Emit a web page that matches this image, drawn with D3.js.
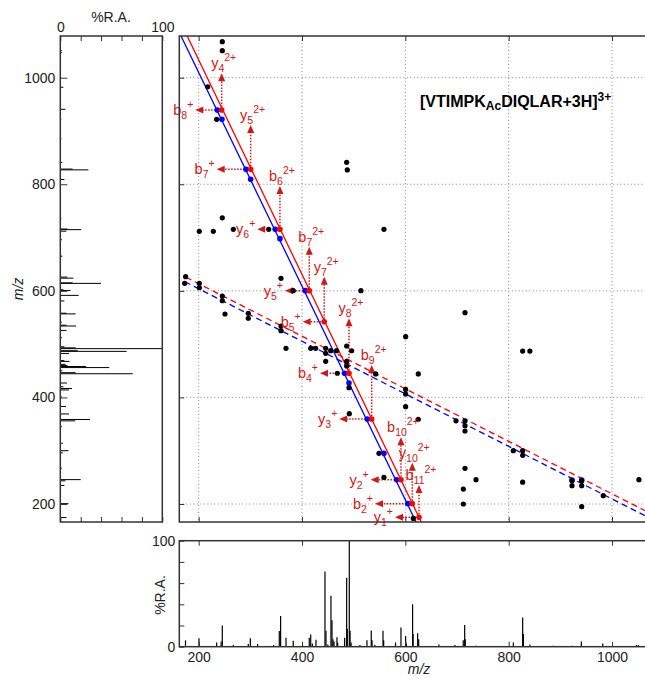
<!DOCTYPE html>
<html>
<head>
<meta charset="utf-8">
<script src="https://cdn.jsdelivr.net/npm/d3@7"></script>
<style>
  body { margin: 0; background: #fff; }
  text { font-family: "Liberation Sans", Arial, sans-serif; }
</style>
</head>
<body>
<script>
// 1D spectrum: [m/z, %R.A.] (shared by the bottom and the left panels)
var spectrum = [
  [174.5, 6], [200.6, 8], [234.8, 4], [243.5, 5], [245.7, 20], [267, 1.5], [296, 2.5],
  [300, 8], [314, 2.5], [345, 1.5], [356, 14.7], [358.6, 29], [369, 8.5], [383, 5.5],
  [401, 1.5], [414, 8.5], [416.8, 11.5], [420, 3], [427, 6.5], [444.4, 71], [446.4, 15],
  [450, 2], [456, 48], [458, 25], [460, 7], [462, 5], [467.6, 9], [469, 4], [482.5, 8.5],
  [486.4, 65], [487.6, 17], [491.5, 100], [493, 15], [495, 4], [512, 1.5], [525.7, 6],
  [534, 15.4], [535.5, 6], [541, 1.5], [556.7, 15], [558, 6], [581, 4], [591.5, 18],
  [600.5, 10], [602, 3], [614, 40], [615, 12], [623.8, 12.8], [625.8, 7], [665, 2],
  [696, 1.5], [712, 6], [714.8, 20.5], [716, 7], [736, 1], [809, 4], [827, 27.5],
  [828.5, 12], [841, 2], [886, 1], [922, 1], [940.6, 5], [982, 3], [1047, 1.7], [1051, 1.5]
];

// 2D map peaks: [fragment m/z, precursor m/z]
var blackPts = [
  [245.7, 1067.5], [245.7, 1050.6], [217.4, 983], [234.8, 921.9], [486.4, 841.2], [487.6, 826.8],
  [245.7, 737], [201.2, 711.7], [228.3, 711.7], [267, 715.5], [335.5, 715.5], [558.6, 715.5],
  [174.8, 626.5], [172.9, 614], [201.2, 614], [201.2, 606], [245.7, 590.3], [245.7, 581.5],
  [250.9, 556.5], [296, 557.8], [296, 548.5], [359.3, 623.5], [383, 600.3], [514, 600.3],
  [359.3, 534], [359.3, 525.2], [369, 492.2], [416.8, 492.2], [426.4, 492.2], [445.8, 492.2],
  [445.8, 482.8], [455.5, 487.7], [467, 487.7], [486.4, 496.5], [496, 487.6], [445.8, 467.8],
  [486.4, 467.8], [486.4, 459], [468.3, 445.3], [490.9, 418.2], [542.5, 444], [625, 444],
  [600.6, 514], [491.5, 369.5], [600.5, 415], [600.5, 406.4], [600.5, 382.6], [625, 359],
  [548.9, 295], [558.6, 250], [615.3, 173], [712.2, 228], [712.2, 200], [715.4, 267],
  [736.7, 245.6], [715.4, 559], [827, 487], [841, 487], [698, 356], [715.4, 356], [715.4, 347],
  [715.4, 337], [809, 300], [827, 300], [827, 291.4], [827, 241], [922.5, 243.7], [941.3, 243.7],
  [922.5, 234.3], [941.3, 234.3], [941.3, 195], [983, 215.6], [1052, 245.6]
];
var bluePts = [
  [236, 939.4], [245, 921.9], [291.5, 828], [300.6, 809.3], [348.3, 715.5], [357.3, 697.9],
  [406.3, 600.3], [482.6, 445.3], [490.9, 427], [526.3, 359.5], [558.6, 295], [583.2, 245.6],
  [605, 200.6], [922.5, 245], [941.3, 245]
];
var redPts = [
  [244.5, 939.4], [300.6, 828], [357.3, 715.5], [414, 600.3], [443, 542],
  [490.9, 445.3], [534.8, 359.5], [591.5, 245.6], [613.4, 200.6], [626.4, 175]
];
// arrow tips (m/z) for each red point
var leftTips = [193.4, 234.8, 313.4, 367, 401.3, 434.8, 472.1, 532.9, 541.2, 579.9];
var upTips = [1008.2, 911.2, 796.7, 682.8, 626.5, 548.5, 460.8, 325.2, 277.5, 235.7];
var leftIons = [["b","8","+"],["b","7","+"],["y","6","+"],["y","5","+"],["b","5","+"],
                ["b","4","+"],["y","3","+"],["y","2","+"],["b","2","+"],["y","1","+"]];
var upIons = [["y","4","2+"],["y","5","2+"],["b","6","2+"],["b","7","2+"],["y","7","2+"],
              ["y","8","2+"],["b","9","2+"],["b","10","2+"],["y","10","2+"],["b","11","2+"]];

// lines: precursor m/z = c + slope * fragment m/z
var redLine = [1435.9, -2.013], blueLine = [1410.7, -2.005];
var redDash = [712, -0.493], blueDash = [702.5, -0.493];

var mzTicks = [200, 400, 600, 800, 1000];
var raTicks = [0, 20, 40, 60, 80, 100];

var W = 645, H = 679;
var svg = d3.select("body").append("svg").attr("width", W).attr("height", H);

var x = d3.scaleLinear().domain([162.5, 1075.4]).range([179.3, 651]);
var y = d3.scaleLinear().domain([166.2, 1078.2]).range([522, 36]);
var raX = d3.scaleLinear().domain([0, 100]).range([60.3, 162.3]);
var raY = d3.scaleLinear().domain([0, 100]).range([646.7, 540.7]);

var axisCol = "#333", labRed = "#d01818";

svg.append("clipPath").attr("id", "mainClip").append("rect")
  .attr("x", 179.3).attr("y", 36).attr("width", 651 - 179.3).attr("height", 522 - 36);

//grid of main panel
var grid = svg.append("g").attr("stroke", "#888").attr("stroke-width", 1).attr("stroke-dasharray", "1,2.5");
grid.selectAll(".gx").data(mzTicks).enter().append("line")
  .attr("x1", d => x(d)).attr("x2", d => x(d)).attr("y1", 36).attr("y2", 522);
grid.selectAll(".gy").data(mzTicks).enter().append("line")
  .attr("y1", d => y(d)).attr("y2", d => y(d)).attr("x1", 179.3).attr("x2", 651);

var main = svg.append("g").attr("clip-path", "url(#mainClip)");

function lineFor(p, x0, dash, col){
  main.append("line")
    .attr("x1", x(x0)).attr("y1", y(p[0] + p[1] * x0))
    .attr("x2", x(1075.4)).attr("y2", y(p[0] + p[1] * 1075.4))
    .attr("stroke", col).attr("stroke-width", 1.3)
    .attr("stroke-dasharray", dash ? "6,4" : null);
}
lineFor(redLine, 162.5, false, "#ff0000");
lineFor(blueLine, 162.5, false, "#0000ff");
lineFor(redDash, 175.5, true, "#ff0000");
lineFor(blueDash, 173.5, true, "#0000ff");

//arrows
var arrows = main.append("g");
redPts.forEach(function(p, i){
  var px = x(p[0]), py = y(p[1]);
  var lx = x(leftTips[i]), uy = y(upTips[i]);
  arrows.append("line").attr("x1", px).attr("y1", py).attr("x2", lx + 7).attr("y2", py)
    .attr("stroke", labRed).attr("stroke-width", 1.5).attr("stroke-dasharray", "1.5,1.5");
  arrows.append("path").attr("d", "M" + lx + "," + py + "L" + (lx + 8) + "," + (py - 3.5) + "L" + (lx + 8) + "," + (py + 3.5) + "Z")
    .attr("fill", labRed);
  arrows.append("line").attr("x1", px).attr("y1", py).attr("x2", px).attr("y2", uy + 7)
    .attr("stroke", labRed).attr("stroke-width", 1.5).attr("stroke-dasharray", "1.5,1.5");
  arrows.append("path").attr("d", "M" + px + "," + uy + "L" + (px - 3.5) + "," + (uy + 8) + "L" + (px + 3.5) + "," + (uy + 8) + "Z")
    .attr("fill", labRed);
});

main.selectAll(".blue").data(bluePts).enter().append("circle")
  .attr("cx", d => x(d[0])).attr("cy", d => y(d[1])).attr("r", 2.8).attr("fill", "#0000ff");
main.selectAll(".red").data(redPts).enter().append("circle")
  .attr("cx", d => x(d[0])).attr("cy", d => y(d[1])).attr("r", 2.8).attr("fill", "#ff0000");
main.selectAll(".black").data(blackPts).enter().append("circle")
  .attr("cx", d => x(d[0])).attr("cy", d => y(d[1])).attr("r", 2.6).attr("fill", "#000");

//ion labels
function ionLabel(g, ion){
  g.append("tspan").text(ion[0]);
  g.append("tspan").attr("font-size", 10.5).attr("dy", 4).text(ion[1]);
  g.append("tspan").attr("font-size", 10.5).attr("dy", -11).text(ion[2]);
}
var labels = svg.append("g").attr("fill", labRed).attr("font-size", 14.5);
redPts.forEach(function(p, i){
  var px = x(p[0]), py = y(p[1]);
  var t = labels.append("text").attr("x", x(leftTips[i]) - 2).attr("y", py + 5).attr("text-anchor", "end");
  ionLabel(t, leftIons[i]);
  var u = labels.append("text").attr("x", px + 2).attr("y", y(upTips[i]) - 5).attr("text-anchor", "middle");
  ionLabel(u, upIons[i]);
});

//title
var title = svg.append("text").attr("x", 420).attr("y", 106.7)
  .attr("font-size", 16).attr("font-weight", "bold").attr("fill", "#000");
title.append("tspan").text("[VTIMPK");
title.append("tspan").attr("font-size", 12).attr("dy", 3).text("Ac");
title.append("tspan").attr("dy", -3).text("DIQLAR+3H]");
title.append("tspan").attr("font-size", 12).attr("dy", -6).text("3+");

//left panel spectrum (horizontal sticks)
svg.append("g").selectAll("line").data(spectrum).enter().append("line")
  .attr("x1", raX(0)).attr("x2", d => raX(d[1]))
  .attr("y1", d => y(d[0])).attr("y2", d => y(d[0]))
  .attr("stroke", "#000").attr("stroke-width", 1);

//bottom panel spectrum
svg.append("g").selectAll("line").data(spectrum).enter().append("line")
  .attr("x1", d => x(d[0])).attr("x2", d => x(d[0]))
  .attr("y1", raY(0)).attr("y2", d => raY(d[1]))
  .attr("stroke", "#000").attr("stroke-width", 1.2);

//axes
function styleAxis(g){
  g.select(".domain").remove();
  g.selectAll(".tick line").attr("stroke", axisCol);
  g.selectAll("text").attr("font-size", 14).attr("fill", "#222")
    .style("font-family", "'Liberation Sans', Arial, sans-serif");
}
var fmt = d3.format("d");
var lab0100 = d => (d === 0 || d === 100) ? d : "";

// left panel
svg.append("g").attr("transform", "translate(60.3,0)")
  .call(d3.axisLeft(y).tickValues(mzTicks).tickSize(-7).tickPadding(5).tickFormat(fmt)).call(styleAxis);
svg.append("g").attr("transform", "translate(0,36)")
  .call(d3.axisTop(raX).tickValues(raTicks).tickSize(-5).tickPadding(4).tickFormat(lab0100)).call(styleAxis);
svg.append("g").attr("transform", "translate(0,522)")
  .call(d3.axisBottom(raX).tickValues(raTicks).tickSize(-5).tickFormat("")).call(styleAxis);

// main panel
svg.append("g").attr("transform", "translate(179.3,0)")
  .call(d3.axisLeft(y).tickValues(mzTicks).tickSize(-5).tickFormat("")).call(styleAxis);
svg.append("g").attr("transform", "translate(0,522)")
  .call(d3.axisBottom(x).tickValues(mzTicks).tickSize(-5).tickFormat("")).call(styleAxis);
svg.append("g").attr("transform", "translate(0,36)")
  .call(d3.axisTop(x).tickValues(mzTicks).tickSize(-5).tickFormat("")).call(styleAxis);

// bottom panel
svg.append("g").attr("transform", "translate(0,646.7)")
  .call(d3.axisBottom(x).tickValues(mzTicks).tickSize(-5).tickPadding(5).tickFormat(fmt)).call(styleAxis);
svg.append("g").attr("transform", "translate(0,540.7)")
  .call(d3.axisTop(x).tickValues(mzTicks).tickSize(-5).tickFormat("")).call(styleAxis);
svg.append("g").attr("transform", "translate(179.3,0)")
  .call(d3.axisLeft(raY).tickValues(raTicks).tickSize(-5).tickPadding(4).tickFormat(lab0100)).call(styleAxis);

//panel frames
var frames = [[60.3, 36, 162.3, 522], [179.3, 36, 651, 522], [179.3, 540.7, 651, 646.7]];
svg.append("g").selectAll("rect").data(frames).enter().append("rect")
  .attr("x", d => d[0]).attr("y", d => d[1])
  .attr("width", d => d[2] - d[0]).attr("height", d => d[3] - d[1])
  .attr("fill", "none").attr("stroke", axisCol).attr("stroke-width", 1.5);

//axis titles
svg.append("text").attr("x", 111).attr("y", 21.7).attr("text-anchor", "middle")
  .attr("font-size", 14).attr("fill", "#222").text("%R.A.");
svg.append("text").attr("transform", "translate(23,289) rotate(-90)").attr("text-anchor", "middle")
  .attr("font-size", 14).attr("font-style", "italic").attr("fill", "#222").text("m/z");
svg.append("text").attr("transform", "translate(165,595) rotate(-90)").attr("text-anchor", "middle")
  .attr("font-size", 14).attr("fill", "#222").text("%R.A.");
svg.append("text").attr("x", 419).attr("y", 674).attr("text-anchor", "middle")
  .attr("font-size", 14).attr("font-style", "italic").attr("fill", "#222").text("m/z");
</script>
</body>
</html>
